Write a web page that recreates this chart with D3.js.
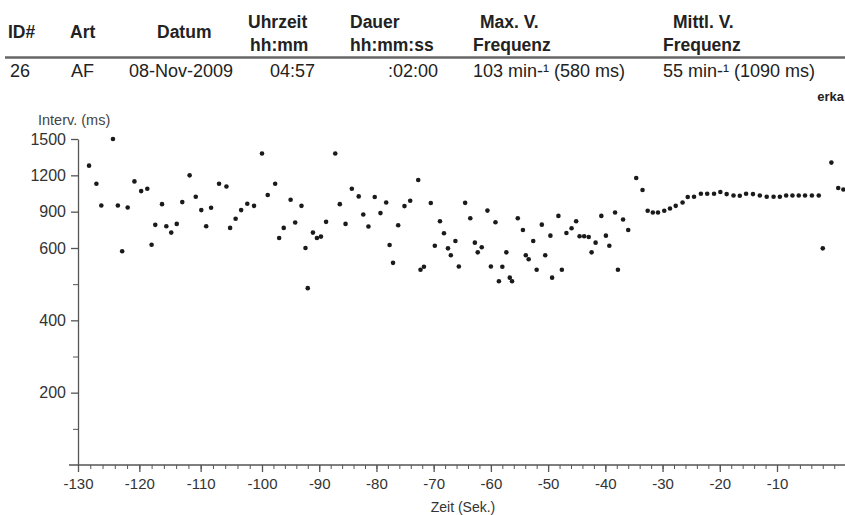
<!DOCTYPE html>
<html>
<head>
<meta charset="utf-8">
<script src="https://cdn.jsdelivr.net/npm/d3@7"></script>
<style>
    body { margin: 0; background: #fff; }
    svg { display: block; font-family: "Liberation Sans", Arial, sans-serif; }
    .axis path, .axis line { stroke: #555; }
    .axis text { fill: #333; font-size: 15px; }
</style>
</head>
<body>
<svg class="chart" width="845" height="515"></svg>
<script>
// header table
var headTop = ["Uhrzeit", "Dauer", "Max. V.", "Mittl. V."];
var headBottom = ["hh:mm", "hh:mm:ss", "Frequenz", "Frequenz"];
var headSingle = ["ID#", "Art", "Datum"];
var rowValues = ["26", "AF", "08-Nov-2009", "04:57", ":02:00", "103 min-\u00b9 (580 ms)", "55 min-\u00b9 (1090 ms)"];
var edgeNote = "erka";

// scatter: time (s) and interval (ms)
var times = [-128.2, -127.0, -126.2, -124.3, -123.5, -122.8, -121.9, -120.8, -119.7, -118.7,
    -118.0, -117.4, -116.3, -115.6, -114.8, -113.9, -113.0, -111.8, -110.8, -109.9,
    -109.1, -108.3, -107.0, -105.8, -105.2, -104.3, -103.4, -102.4, -101.3, -100.0,
    -99.0, -97.7, -97.0, -96.2, -95.0, -94.2, -93.1, -92.4, -92.0, -91.1,
    -90.4, -89.7, -88.8, -87.2, -86.4, -85.4, -84.3, -83.1, -82.3, -81.4,
    -80.3, -79.3, -78.3, -77.7, -77.1, -76.2, -75.1, -74.1, -72.7, -72.3,
    -71.7, -70.5, -69.8, -68.9, -68.2, -67.5, -67.0, -66.2, -65.6, -64.5,
    -63.6, -62.8, -62.3, -61.6, -60.6, -60.0, -59.2, -58.6, -58.0, -57.3,
    -56.7, -56.3, -55.3, -54.4, -53.9, -53.4, -52.6, -52.0, -51.1, -50.5,
    -49.6, -49.3, -48.2, -47.6, -46.8, -45.9, -45.1, -44.5, -43.7, -42.9,
    -42.4, -41.7, -40.7, -39.9, -39.3, -38.3, -37.8, -36.9, -36.0, -34.6,
    -33.5, -32.6, -31.7, -30.8, -29.7, -28.7, -27.7, -26.5, -25.6, -24.5,
    -23.3, -22.2, -21.0, -19.9, -18.8, -17.6, -16.5, -15.4, -14.2, -13.0,
    -11.8, -10.6, -9.5, -8.4, -7.3, -6.2, -5.1, -3.9, -2.7, -2.0,
    -0.5, 0.7, 1.6];
var intervals = [1280, 1131, 951, 1500, 951, 591, 934, 1150, 1070, 1089,
    627, 791, 962, 780, 727, 799, 979, 1200, 1023, 913,
    780, 932, 1131, 1108, 766, 841, 913, 965, 948, 1380,
    1037, 1131, 683, 766, 998, 810, 948, 600, 489, 727,
    683, 694, 816, 1380, 962, 799, 1089, 1026, 876, 777,
    1021, 888, 976, 625, 559, 788, 946, 990, 1162, 540,
    548, 971, 619, 821, 722, 599, 580, 658, 549, 973,
    846, 644, 588, 606, 909, 549, 813, 508, 548, 588,
    518, 508, 846, 749, 580, 569, 658, 540, 793, 580,
    702, 518, 865, 540, 724, 763, 821, 697, 697, 691,
    588, 644, 865, 702, 619, 893, 540, 835, 749, 1178,
    1079, 907, 893, 893, 907, 926, 948, 976, 1021, 1023,
    1048, 1048, 1048, 1062, 1045, 1034, 1031, 1048, 1045, 1034,
    1023, 1023, 1023, 1034, 1034, 1034, 1034, 1034, 1034, 599,
    1305, 1095, 1083];

var xTicks = [-130, -120, -110, -100, -90, -80, -70, -60, -50, -40, -30, -20, -10];
var yTicks = [200, 400, 600, 900, 1200, 1500];
var yMinor = [100, 300, 500];

(function () {
    var svg = d3.select(".chart"),
        width = +svg.attr("width");

    var ink = "#222";
    // plain labels, hyphen minus, no thousands separator
    var plain = function (d) { return String(d); };

    // ---- header table ----
    var head = svg.append("g")
        .style("font-weight", "bold")
        .style("font-size", "17.5px")
        .attr("fill", ink);

    var singleX = [8, 70, 157];
    head.selectAll(".hs")
        .data(headSingle)
        .enter()
        .append("text")
        .attr("x", function (d, i) { return singleX[i]; })
        .attr("y", 38)
        .text(function (d) { return d; });

    var topX = [248, 350, 480, 673],
        botX = [250, 350, 473, 663];
    head.selectAll(".ht")
        .data(headTop)
        .enter()
        .append("text")
        .attr("x", function (d, i) { return topX[i]; })
        .attr("y", 28)
        .text(function (d) { return d; });
    head.selectAll(".hb")
        .data(headBottom)
        .enter()
        .append("text")
        .attr("x", function (d, i) { return botX[i]; })
        .attr("y", 51)
        .text(function (d) { return d; });

    svg.append("line")
        .attr("x1", 5).attr("x2", width)
        .attr("y1", 57.5).attr("y2", 57.5)
        .attr("stroke", "#666")
        .attr("stroke-width", 2.5);

    var rowX = [10, 71, 129, 270, 388, 473, 663];
    svg.append("g")
        .style("font-size", "18px")
        .attr("fill", ink)
        .selectAll("text")
        .data(rowValues)
        .enter()
        .append("text")
        .attr("x", function (d, i) { return rowX[i]; })
        .attr("y", 77)
        .text(function (d) { return d; });

    // truncated note at the right edge of the sheet
    svg.append("text")
        .attr("x", 844)
        .attr("y", 101)
        .attr("text-anchor", "end")
        .attr("fill", ink)
        .style("font-size", "13px")
        .style("font-weight", "bold")
        .text(edgeNote);

    // ---- scales ----
    // scanned sheet: x spacing is slightly wider at the left, y axis is two-part
    var x = d3.scaleLinear()
        .domain([-130, -100, -10])
        .range([78, 262, 777]);

    var y = d3.scaleLinear()
        .domain([0, 600, 1500])
        .range([465, 248, 139]);

    // y axis
    var gy = svg.append("g")
        .attr("class", "axis")
        .attr("transform", "translate(78,0)")
        .call(d3.axisLeft(y).tickValues(yTicks).tickFormat(plain)
            .tickSize(7).tickSizeOuter(0).tickPadding(5));
    gy.select(".domain").attr("stroke-width", 1.3);
    gy.selectAll(".tick line").attr("stroke-width", 1.3);
    gy.selectAll(".tick text").style("font-size", "16px").attr("fill", "#2a2a2a");

    svg.append("g")
        .attr("class", "axis")
        .attr("transform", "translate(78,0)")
        .call(d3.axisLeft(y).tickValues(yMinor).tickSize(5).tickFormat(""))
        .select(".domain").remove();

    svg.append("text")
        .attr("x", 38)
        .attr("y", 125)
        .attr("fill", "#444")
        .style("font-size", "14.5px")
        .text("Interv. (ms)");

    // x axis
    svg.append("line")
        .attr("x1", 69).attr("x2", width)
        .attr("y1", 465).attr("y2", 465)
        .attr("stroke", "#555")
        .attr("stroke-width", 1.5);

    svg.append("g")
        .attr("class", "axis")
        .attr("transform", "translate(0,465)")
        .call(d3.axisBottom(x).tickValues(d3.range(-130, 2, 2)).tickSize(4).tickFormat(""))
        .select(".domain").remove();

    var gx = svg.append("g")
        .attr("class", "axis")
        .attr("transform", "translate(0,465)")
        .call(d3.axisBottom(x).tickValues(xTicks).tickFormat(plain).tickSize(7).tickPadding(6));
    gx.select(".domain").remove();
    gx.selectAll(".tick line").attr("stroke-width", 1.3);

    svg.append("text")
        .attr("x", 463)
        .attr("y", 512)
        .attr("text-anchor", "middle")
        .attr("fill", "#333")
        .style("font-size", "14px")
        .text("Zeit (Sek.)");

    // ---- points ----
    svg.append("g")
        .selectAll("circle")
        .data(times)
        .enter()
        .append("circle")
        .attr("cx", function (d) { return x(d); })
        .attr("cy", function (d, i) { return y(intervals[i]); })
        .attr("r", 2.3)
        .attr("fill", "#1a1a1a");
})();
</script>
</body>
</html>
